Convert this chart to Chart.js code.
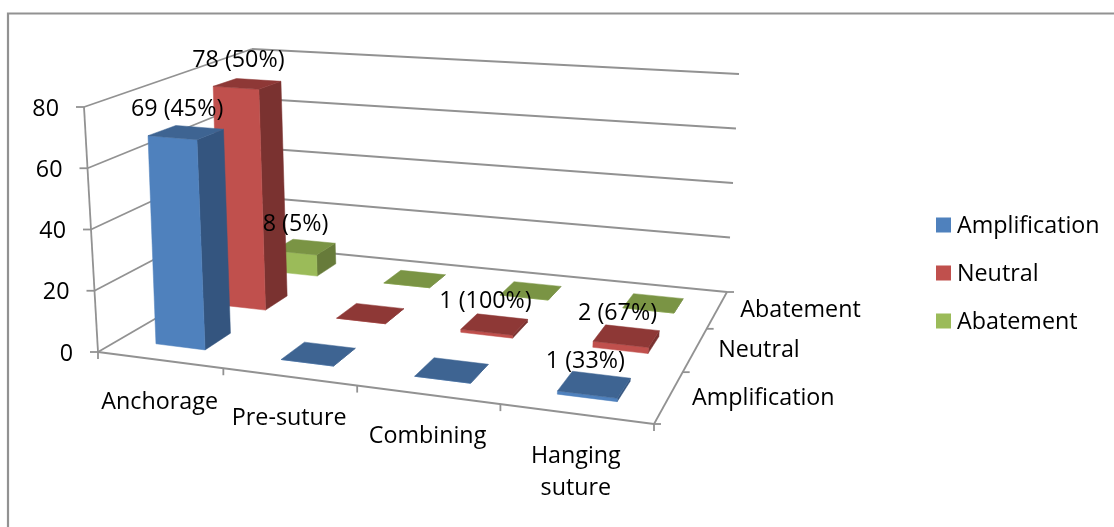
<!DOCTYPE html>
<html><head><meta charset="utf-8">
<style>html,body{margin:0;padding:0;background:#fff}canvas{display:block}</style>
<script src="https://cdn.jsdelivr.net/npm/chart.js@4/dist/chart.umd.js"></script>
</head><body><canvas id="c" width="1114" height="527"></canvas>
<script>
const categories = ['Anchorage','Pre-suture','Combining',['Hanging','suture']];
const seriesNames = ['Amplification','Neutral','Abatement'];
const amplification = [69,0,0,1];
const neutral = [78,0,1,2];
const abatement = [8,0,0,0];
const amplificationPct = [45,null,null,33];
const neutralPct = [50,null,100,67];
const abatementPct = [5,null,null,null];
const valueTicks = [0,20,40,60,80];

const FONT = '23.3px "Open Sans", sans-serif';
const GREY = '#929292';
// perspective box of the plot: floor and ceiling corners
const floorQ = [[98,352],[654,424],[727,292],[277,248]];
const barTopQ = [[88,107],[686,155],[739,74],[272,50]];
const wallTopQ = [[84,107],[666,155],[739,74],[252,49]];
function homography(q){
  const [a,b,c,d]=q;
  const dx1=b[0]-c[0],dx2=d[0]-c[0],sx=a[0]-b[0]+c[0]-d[0];
  const dy1=b[1]-c[1],dy2=d[1]-c[1],sy=a[1]-b[1]+c[1]-d[1];
  const den=dx1*dy2-dx2*dy1;
  const g=(sx*dy2-dx2*sy)/den,h=(dx1*sy-sx*dy1)/den;
  const A=b[0]-a[0]+g*b[0],B=d[0]-a[0]+h*d[0],D=b[1]-a[1]+g*b[1],E=d[1]-a[1]+h*d[1];
  return (u,v)=>{const w=g*u+h*v+1;return [(A*u+B*v+a[0])/w,(D*u+E*v+a[1])/w];};
}
const floorH=homography(floorQ), barTopH=homography(barTopQ), wallTopH=homography(wallTopQ);
function lift(u,v,t,topH){
  const f=floorH(u,v),p=topH(u,v);
  return [f[0]+(p[0]-f[0])*t,f[1]+(p[1]-f[1])*t];
}
const project=(u,v,t)=>lift(u,v,t,barTopH);
const wall=(u,v,t)=>lift(u,v,t,wallTopH);
function poly(ctx,pts,fill){
  ctx.beginPath();pts.forEach((p,i)=>i?ctx.lineTo(p[0],p[1]):ctx.moveTo(p[0],p[1]));ctx.closePath();
  ctx.fillStyle=fill;ctx.fill();ctx.strokeStyle=fill;ctx.lineWidth=0.5;ctx.stroke();
}
function line(ctx,a,b){ctx.beginPath();ctx.moveTo(a[0],a[1]);ctx.lineTo(b[0],b[1]);ctx.stroke();}

// bar geometry comes from the library's own bar elements and scales
function barBox(chart,el,dsIndex){
  const {x,y,z}=chart.scales;
  const u0=(el.x-el.width/2-x.left)/x.width,u1=(el.x+el.width/2-x.left)/x.width;
  const zc=(z.getPixelForValue(dsIndex)-z.top)/z.height;
  const dz=0.4/seriesNames.length/2;
  const t=(el.base-el.y)/y.height;
  return {u0,u1,v0:zc-dz,v1:zc+dz,t};
}
class Bar3DController extends Chart.BarController{
  draw(){
    const chart=this.chart,ctx=chart.ctx,ds=this.getDataset(),i=this.index;
    this._cachedMeta.data.forEach(el=>{
      const {u0,u1,v0,v1,t}=barBox(chart,el,i);
      poly(ctx,[project(u1,v0,0),project(u1,v1,0),project(u1,v1,t),project(u1,v0,t)],ds.sideColor);
      poly(ctx,[project(u0,v0,0),project(u1,v0,0),project(u1,v0,t),project(u0,v0,t)],ds.backgroundColor);
      poly(ctx,[project(u0,v0,t),project(u1,v0,t),project(u1,v1,t),project(u0,v1,t)],ds.topColor);
    });
  }
}
Bar3DController.id='bar3d';
Bar3DController.defaults=Chart.BarController.defaults;
Bar3DController.overrides=Chart.BarController.overrides;
Chart.register(Bar3DController);

const box3d={
  id:'box3d',
  beforeDatasetsDraw(chart){
    const ctx=chart.ctx,{x,y,z}=chart.scales;
    ctx.save();
    ctx.strokeStyle=GREY;ctx.lineWidth=2.2;
    ctx.beginPath();ctx.moveTo(8,527);ctx.lineTo(8,13.5);ctx.lineTo(1114,13.5);ctx.stroke();
    ctx.lineWidth=1.8;
    y.ticks.forEach(tk=>{
      const t=(y.bottom-y.getPixelForValue(tk.value))/y.height;
      const a=wall(0,0,t),b=wall(0,1,t),c=wall(1,1,t);
      line(ctx,a,b);line(ctx,b,c);
      line(ctx,a,[a[0]-8,a[1]]);
    });
    line(ctx,wall(0,0,0),wall(0,0,1));
    line(ctx,wall(0,0,0),wall(1,0,0));
    line(ctx,wall(1,0,0),wall(1,1,0));
    for(let i=0;i<=categories.length;i++){
      const a=wall(i/categories.length,0,0);line(ctx,a,[a[0],a[1]+7]);
    }
    for(let j=0;j<=seriesNames.length;j++){
      const a=wall(1,j/seriesNames.length,0);line(ctx,a,[a[0]+7,a[1]]);
    }
    ctx.restore();
  },
  afterDatasetsDraw(chart){
    const ctx=chart.ctx,{x,y,z}=chart.scales;
    ctx.save();
    ctx.font=FONT;ctx.fillStyle='#000';ctx.textBaseline='middle';
    // value ticks
    ctx.textAlign='right';
    y.ticks.forEach(tk=>{
      const t=(y.bottom-y.getPixelForValue(tk.value))/y.height;
      const a=wall(0,0,t);ctx.fillText(tk.label,a[0]-25,a[1]+2);
    });
    // category labels
    ctx.textAlign='center';
    categories.forEach((c,i)=>{
      const u=(x.getPixelForValue(i)-x.left)/x.width;
      const a=wall(u,0,0);
      [].concat(c).forEach((s,k)=>ctx.fillText(s,a[0],a[1]+42+k*32));
    });
    // depth labels
    ctx.textAlign='left';
    seriesNames.forEach((s,j)=>{
      const v=(z.getPixelForValue(j)-z.top)/z.height;
      const a=wall(1,v,0);ctx.fillText(s,a[0]+23,a[1]+1);
    });
    // data labels
    ctx.textAlign='center';
    chart.data.datasets.forEach((ds,i)=>{
      chart.getDatasetMeta(i).data.forEach((el,k)=>{
        if(ds.percent[k]==null)return;
        const b=barBox(chart,el,i);
        const p=project((b.u0+b.u1)/2,(b.v0+b.v1)/2,b.t);
        ctx.fillText(ds.data[k]+' ('+ds.percent[k]+'%)',p[0]-9,p[1]-23);
      });
    });
    // legend
    ctx.textAlign='left';
    chart.data.datasets.forEach((ds,i)=>{
      const cy=225+i*48;
      ctx.fillStyle=ds.backgroundColor;ctx.fillRect(936,cy-7.5,15,15);
      ctx.fillStyle='#000';ctx.fillText(ds.label,957,cy+1);
    });
    ctx.restore();
  }
};

new Chart(document.getElementById('c'),{
  type:'bar3d',
  data:{labels:categories,datasets:[
    {label:seriesNames[0],data:amplification,percent:amplificationPct,backgroundColor:'#4F81BD',sideColor:'#34557F',topColor:'#3E6492'},
    {label:seriesNames[1],data:neutral,percent:neutralPct,backgroundColor:'#C0504D',sideColor:'#7A3230',topColor:'#8E3836'},
    {label:seriesNames[2],data:abatement,percent:abatementPct,backgroundColor:'#9BBB59',sideColor:'#677B3A',topColor:'#7A9444'}
  ]},
  options:{
    responsive:false,animation:false,
    grouped:false,categoryPercentage:0.4,barPercentage:1,
    plugins:{legend:{display:false},tooltip:{enabled:false}},
    scales:{
      x:{type:'category',display:false,offset:true},
      y:{type:'linear',display:false,min:valueTicks[0],max:valueTicks[valueTicks.length-1],ticks:{stepSize:20}},
      z:{type:'category',axis:'y',display:false,labels:seriesNames,offset:true}
    }
  },
  plugins:[box3d]
});
</script></body></html>
